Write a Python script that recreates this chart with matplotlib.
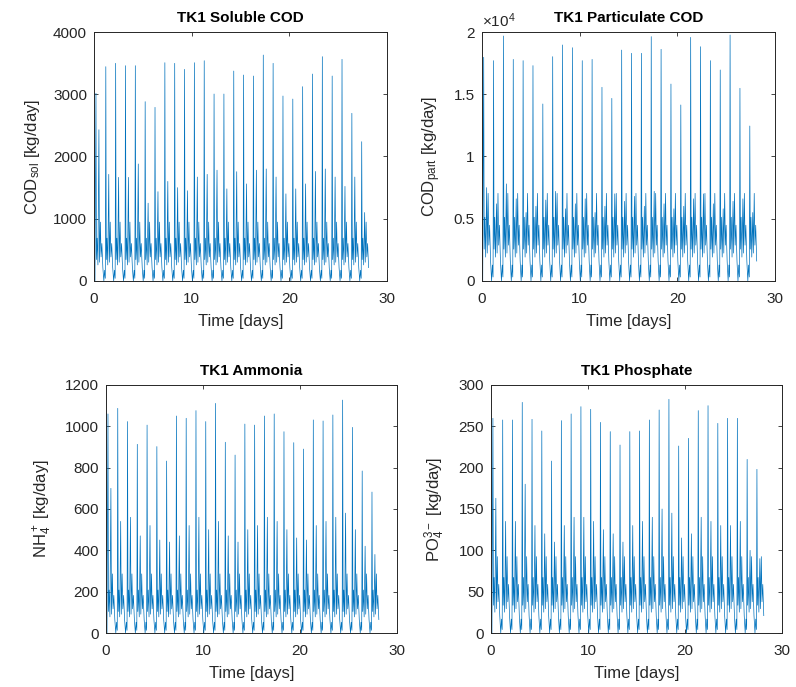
import numpy as np
import matplotlib
matplotlib.use("Agg")
import matplotlib.pyplot as plt

plt.rcParams["font.family"] = ["Liberation Sans", "DejaVu Sans"]
plt.rcParams["mathtext.fontset"] = "custom"
plt.rcParams["mathtext.rm"] = "Liberation Sans"
plt.rcParams["mathtext.it"] = "Liberation Sans:italic"

# daily peak values (one big spike per day)
peak_sol = [3015, 3443, 3497, 3459, 3459, 2881, 2790, 3507, 3497, 3400,
            3507, 3539, 3004, 3004, 3373, 3309, 3293, 3630, 3497, 2972,
            2923, 3122, 3325, 3604, 3293, 3561, 2694, 2238]
peak_part = [1.797, 1.770, 1.968, 1.780, 1.770, 1.730, 1.422, 1.802, 1.896, 1.874,
             1.770, 1.780, 1.556, 1.467, 1.855, 1.829, 1.829, 1.963, 1.861, 1.582,
             1.414, 1.957, 1.882, 1.770, 1.695, 1.976, 1.548, 1.245]  # x 1e4
peak_nh4 = [1060, 1087, 1023, 913, 1006, 902, 832, 1050, 1039, 1076,
            1023, 1111, 923, 861, 1011, 1006, 1050, 1060, 974, 921,
            890, 1031, 1026, 1055, 1127, 995, 784, 682]
peak_po4 = [259.7, 257.7, 257.7, 279.0, 258.5, 244.4, 208.0, 256.9, 265.0, 273.8,
            270.6, 254.8, 243.6, 227.4, 243.6, 244.4, 257.7, 269.8, 282.7, 226.2,
            235.5, 269.0, 275.0, 253.6, 259.7, 259.7, 210.0, 198.0]

# secondary spike each day
sec_sol = [2430, 1713, 1665, 1665, 1880, 1250, 1435, 1600, 1500, 1450,
           1670, 1713, 1780, 1480, 1756, 1560, 1780, 1800, 1670, 1400,
           1480, 1560, 1760, 1800, 1670, 1520, 1670, 1100]
sec_part = [0.75, 0.62, 0.78, 0.66, 0.55, 0.60, 0.65, 0.72, 0.58, 0.62,
            0.66, 0.55, 0.60, 0.70, 0.64, 0.68, 0.60, 0.72, 0.62, 0.58,
            0.60, 0.66, 0.70, 0.62, 0.58, 0.64, 0.66, 0.55]
sec_nh4 = [700, 540, 560, 470, 520, 450, 440, 470, 520, 560,
           500, 540, 470, 440, 500, 520, 560, 540, 500, 460,
           450, 520, 540, 560, 580, 500, 420, 380]
sec_po4 = [163, 135, 135, 180, 130, 120, 110, 130, 140, 140,
           135, 125, 120, 110, 130, 135, 140, 150, 145, 115,
           120, 140, 135, 130, 130, 135, 100, 90]

# typical level between spikes
base_sol = 430
base_part = 0.32
base_nh4 = 130
base_po4 = 42

# shape of one day (fraction of day, level relative to base); index 0 = peak, 4 = secondary
day_phase = [0.00, 0.05, 0.12, 0.20, 0.30, 0.36, 0.45, 0.52, 0.60, 0.70, 0.80, 0.88, 0.95]
day_shape = [0.0, 0.8, 1.6, 0.6, 0.0, 0.7, 2.2, 0.9, 1.4, 0.5, 0.0, 0.4, 0.1]
sec_index = 4

t_start = 0.2
day_len = 1.008


def build(peaks, secs, base):
    t = [0.0, 0.1]
    y = [0.3 * base, 0.0]
    for k, (p, s) in enumerate(zip(peaks, secs)):
        t0 = t_start + k * day_len
        for j, (ph, sh) in enumerate(zip(day_phase, day_shape)):
            if k == len(peaks) - 1 and ph > 0.75:
                break
            if j == 0:
                v = p
            elif j == sec_index:
                v = s
            else:
                v = sh * base
            t.append(t0 + ph * day_len)
            y.append(v)
    return np.array(t), np.array(y)


color = "#0072BD"
axcol = "#262626"

fig = plt.figure(figsize=(7.96, 6.87), dpi=100)
positions = [
    [0.1181, 0.591, 0.368, 0.3624],
    [0.6052, 0.591, 0.3685, 0.3624],
    [0.1332, 0.0786, 0.3656, 0.361],
    [0.6168, 0.0786, 0.3656, 0.361],
]
panels = [
    ("TK1 Soluble COD", r"COD$_{\rm sol}$ [kg/day]", peak_sol, sec_sol, base_sol,
     4000, [0, 1000, 2000, 3000, 4000], ["0", "1000", "2000", "3000", "4000"]),
    ("TK1 Particulate COD", r"COD$_{\rm part}$ [kg/day]", peak_part, sec_part, base_part,
     2, [0, 0.5, 1, 1.5, 2], ["0", "0.5", "1", "1.5", "2"]),
    ("TK1 Ammonia", r"NH$_4^+$ [kg/day]", peak_nh4, sec_nh4, base_nh4,
     1200, list(range(0, 1201, 200)), [str(v) for v in range(0, 1201, 200)]),
    ("TK1 Phosphate", r"PO$_4^{3-}$ [kg/day]", peak_po4, sec_po4, base_po4,
     300, list(range(0, 301, 50)), [str(v) for v in range(0, 301, 50)]),
]

for pos, (title, ylab, pk, sc, b, ymax, yt, ytl) in zip(positions, panels):
    ax = fig.add_axes(pos)
    t, y = build(pk, sc, b)
    ax.plot(t, y, color=color, lw=0.5)
    ax.set_xlim(0, 30)
    ax.set_ylim(0, ymax)
    ax.set_xticks([0, 10, 20, 30])
    ax.set_yticks(yt)
    ax.set_yticklabels(ytl)
    ax.tick_params(direction="in", length=3, width=0.6, labelsize=11,
                   colors=axcol, top=True, right=True)
    ax.tick_params(axis="x", pad=8)
    ax.tick_params(axis="y", pad=5)
    for sp in ax.spines.values():
        sp.set_color(axcol)
        sp.set_linewidth(0.7)
    ax.set_title(title, fontsize=11, fontweight="bold", color="black", pad=7)
    ax.set_xlabel("Time [days]", fontsize=12, color=axcol, labelpad=6)
    ax.set_ylabel(ylab, fontsize=12, color=axcol, labelpad=8)
    if ymax == 2:
        ax.text(0.0, 1.01, r"$\times10^4$", transform=ax.transAxes,
                fontsize=11, color=axcol, ha="left", va="bottom")

fig.savefig("out.png", dpi=100)
